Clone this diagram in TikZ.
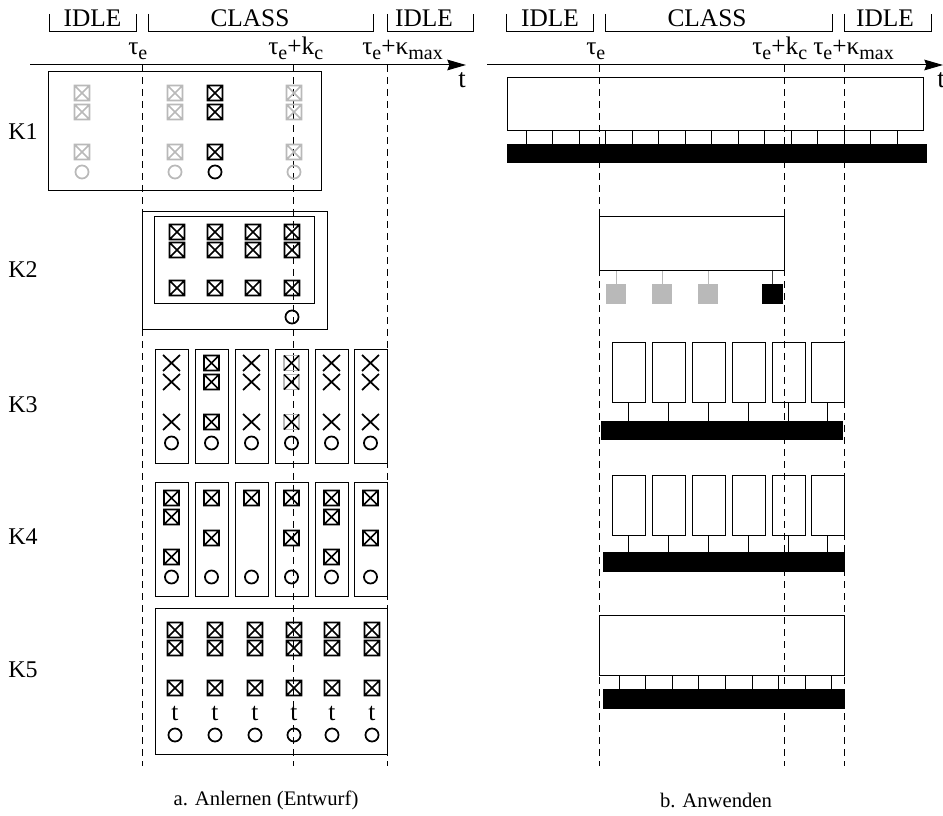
\documentclass[tikz,border=0pt]{standalone}
\usepackage{fontspec}
\setmainfont{Liberation Serif}
\usetikzlibrary{arrows.meta}
\definecolor{lg}{RGB}{185,185,185}
\newcommand\sbs[1]{\raisebox{-0.4ex}{\fontsize{15}{15}\selectfont #1}}
\begin{document}
\begin{tikzpicture}[x=0.75pt,y=-0.75pt,
  frame/.style={draw,line width=0.75pt},
  dl/.style={line width=0.75pt, dash pattern=on 5.5pt off 3.5pt},
  brk/.style={line width=0.75pt},
  hdr/.style={font=\fontsize{19}{19}\selectfont},
  tau/.style={anchor=base west, font=\fontsize{19}{19}\selectfont, inner sep=0pt},
  klab/.style={font=\fontsize{18}{18}\selectfont},
  captxt/.style={font=\fontsize{15.5}{15.5}\selectfont},
  bar/.style={fill=black},
  xb/.pic={\draw[line width=1.3pt] (-7.5,-7.5) rectangle (7.5,7.5) (-7.5,-7.5)--(7.5,7.5) (-7.5,7.5)--(7.5,-7.5);},
  gxb/.pic={\draw[line width=1.3pt, lg] (-7.5,-7.5) rectangle (7.5,7.5); \draw[line width=1.3pt] (-7.5,-7.5)--(7.5,7.5) (-7.5,7.5)--(7.5,-7.5);},
  xx/.pic={\draw[line width=1.3pt] (-8.5,-8)--(8.5,8) (-8.5,8)--(8.5,-8);},
  oo/.pic={\draw[line width=1.3pt] (0,0) circle[radius=4.9pt];}
]
\useasboundingbox (0,0) rectangle (943,816);

% ---------- headers ----------
\foreach \a/\b in {49/136,148/373,387/473,506/593,605/832,844/931}
  \draw[brk] (\a,14) -- (\a,32) -- (\b,32) -- (\b,14);
\node[hdr] (h1) at (92.5,18) {IDLE};
\node[hdr] (h2) at (250,18) {CLASS};
\node[hdr] (h3) at (424,18) {IDLE};
\node[hdr] (h4) at (550,18) {IDLE};
\node[hdr] (h5) at (707,18) {CLASS};
\node[hdr] (h6) at (885,18) {IDLE};

\node[tau] (t1) at (128,55) {τ\sbs{e}};
\node[tau] (t2) at (268,55) {τ\sbs{e}+k\sbs{c}};
\node[tau] (t3) at (362,55) {τ\sbs{e}+κ\sbs{max}};
\node[tau] (t4) at (586,55) {τ\sbs{e}};
\node[tau] (t5) at (752,55) {τ\sbs{e}+k\sbs{c}};
\node[tau] (t6) at (813,55) {τ\sbs{e}+κ\sbs{max}};

% axes
\coordinate (al0) at (30,65); \coordinate (al1) at (466,65);
\coordinate (ar0) at (487,65); \coordinate (ar1) at (943,65);
\draw[line width=0.75pt, -{Stealth[length=14pt,width=8pt,inset=1.5pt]}] (al0) -- (al1);
\draw[line width=0.75pt, -{Stealth[length=14pt,width=8pt,inset=1.5pt]}] (ar0) -- (ar1);
\node[font=\fontsize{20}{20}\selectfont] (tl) at (462,80) {t};
\node[font=\fontsize{20}{20}\selectfont] (tr) at (941,80) {t};

% dashed time lines
\foreach \x in {142,293,387,599,784,844}
  \draw[dl] (\x,65) -- (\x,766);

% ---------- K labels ----------
\node[klab] (k1) at (23,132) {K1};
\node[klab] (k2) at (23,270) {K2};
\node[klab] (k3) at (23,405) {K3};
\node[klab] (k4) at (23,537) {K4};
\node[klab] (k5) at (23,670) {K5};

% ---------- left: K1 ----------
\draw[frame] (48,72) rectangle (321,191);
\foreach \x/\c in {82/lg,175/lg,215/black,294/lg}{
  \foreach \y in {93,112,152} \pic[color=\c] at (\x,\y) {xb};
  \pic[color=\c] at (\x,172) {oo};
}

% ---------- left: K2 ----------
\draw[frame] (142,212) rectangle (327,330);
\draw[frame] (154,217) rectangle (314,304);
\foreach \x in {177,215,253,292}
  \foreach \y in {232,250,288} \pic at (\x,\y) {xb};
\pic at (292,317) {oo};

% ---------- left: K3 ----------
\foreach \x in {155,195,235,275,315,354}
  \draw[frame] (\x,350) rectangle ++(33,114);
\foreach \x/\s in {171.5/xx,211.5/xb,251.5/xx,291.5/gxb,331.5/xx,370.5/xx}{
  \foreach \y in {363,382,422} \pic at (\x,\y) {\s};
  \pic at (\x,443) {oo};
}

% ---------- left: K4 ----------
\foreach \x in {155,195,235,275,315,354}
  \draw[frame] (\x,483) rectangle ++(33,113);
\foreach \x/\y in {171.5/498,171.5/517,171.5/557,
                   211.5/498,211.5/538,
                   251.5/498,
                   291.5/498,291.5/538,
                   331.5/498,331.5/517,331.5/557,
                   370.5/498,370.5/538}
  \pic at (\x,\y) {xb};
\foreach \x in {171.5,211.5,251.5,291.5,331.5,370.5}
  \pic at (\x,577) {oo};

% ---------- left: K5 ----------
\draw[frame] (155,608) rectangle (387,754);
\foreach \x in {175,215,255,294,332,372}{
  \foreach \y in {630,648,688} \pic at (\x,\y) {xb};
  \node[hdr, inner sep=0pt] at (\x,713) {t};
  \pic at (\x,735) {oo};
}

% ---------- right: K1 ----------
\draw[frame] (507,78) rectangle (923,131);
\foreach \i in {0,...,14}
  \draw[line width=0.75pt] ({526+26.5*\i},131) -- ({526+26.5*\i},144);
\fill[bar] (507,144) rectangle (927,163);

% ---------- right: K2 ----------
\draw[frame] (599,217) rectangle (784,271);
\foreach \x in {606,652,698}{
  \draw[line width=0.75pt, lg] (\x+10,271) -- (\x+10,284);
  \fill[lg] (\x,284) rectangle ++(20,20);
}
\draw[line width=0.75pt, black!75] (772.5,271) -- (772.5,284);
\fill[black] (762,284) rectangle (783,304);

% ---------- right: K3 ----------
\foreach \x in {612,652,692,732,772,811}{
  \draw[frame] (\x,343) rectangle ++(33,60);
  \draw[line width=0.75pt] (\x+16.5,403) -- (\x+16.5,421);
}
\fill[bar] (601,421) rectangle (843,440);

% ---------- right: K4 ----------
\foreach \x in {612,652,692,732,772,811}{
  \draw[frame] (\x,476) rectangle ++(33,60);
  \draw[line width=0.75pt] (\x+16.5,536) -- (\x+16.5,552);
}
\fill[bar] (603,552) rectangle (845,572);

% ---------- right: K5 ----------
\draw[frame] (599,615) rectangle (844,675);
\foreach \i in {0,...,8}
  \draw[line width=0.75pt] ({619+26.6*\i},675) -- ({619+26.6*\i},689);
\fill[bar] (603,689) rectangle (845,709);

% ---------- captions ----------
\node[captxt] (ca) at (266,800) {a. Anlernen (Entwurf)};
\node[captxt] (cb) at (716,800) {b. Anwenden};
\end{tikzpicture}
\end{document}
